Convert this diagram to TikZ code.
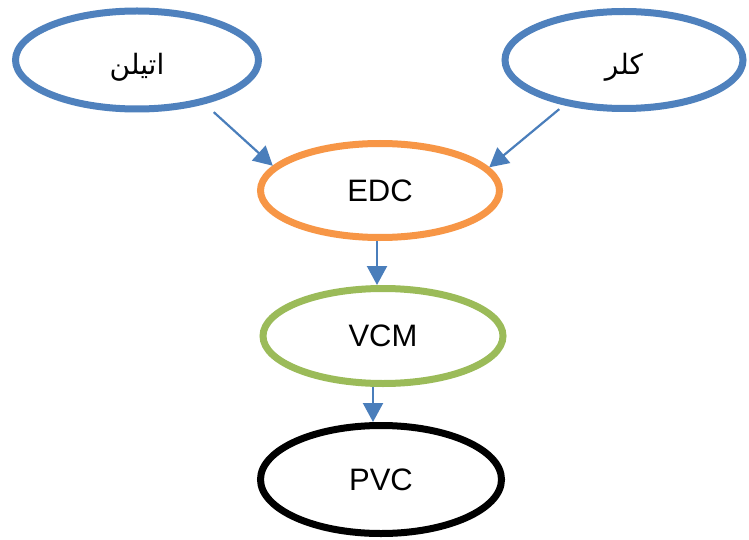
\documentclass[tikz,border=0pt]{standalone}
\usepackage{fontspec}
\setmainfont{Liberation Sans}
\newfontfamily\arabicfont[Script=Arabic]{DejaVu Sans}
\TeXXeTstate=1
\usetikzlibrary{shapes.geometric,arrows.meta}
\definecolor{eblue}{HTML}{4F81BD}
\definecolor{eorange}{HTML}{F79646}
\definecolor{egreen}{HTML}{9BBB59}
\definecolor{ablue}{HTML}{4A7EBB}
\begin{document}
\begin{tikzpicture}[x=1pt,y=-1pt,
  oval/.style={ellipse, draw, line width=7pt, inner sep=0pt, fill=white},
  lbl/.style={font=\fontsize{31}{36}\selectfont},
  albl/.style={font=\arabicfont\fontsize{28}{32}\selectfont},
  arr/.style={draw=ablue, line width=2.2pt, -{Triangle[width=20pt,length=19pt,fill=ablue]}}]
\useasboundingbox[fill=white] (0,0) rectangle (749,540);
\node[oval, draw=eblue, minimum width=243pt, minimum height=98pt] (e1) at (137,60) {};
\node[albl] (t1) at (137,67) {\beginR اتیلن\endR};
\node[oval, draw=eblue, minimum width=238pt, minimum height=97pt] (e2) at (624,60) {};
\node[albl] (t2) at (624,67) {\beginR کلر\endR};
\node[oval, draw=eorange, lbl, minimum width=239pt, minimum height=94pt] (edc) at (380,190.5) {EDC};
\node[oval, draw=egreen, lbl, minimum width=240pt, minimum height=95pt] (vcm) at (383,336) {VCM};
\node[oval, draw=black, lbl, minimum width=241pt, minimum height=108pt] (pvc) at (381,479.5) {PVC};
\draw[arr, shorten <=12pt] (e1.-33) -- (edc.167);
\draw[arr, shorten <=6pt] (e2.-143) -- (edc.12);
\draw[arr] ([xshift=-3pt]edc.south) -- ([xshift=-3pt]edc.south |- vcm.north);
\draw[arr] ([xshift=-8pt]pvc.north |- vcm.south) -- ([xshift=-8pt]pvc.north);
\end{tikzpicture}
\end{document}
